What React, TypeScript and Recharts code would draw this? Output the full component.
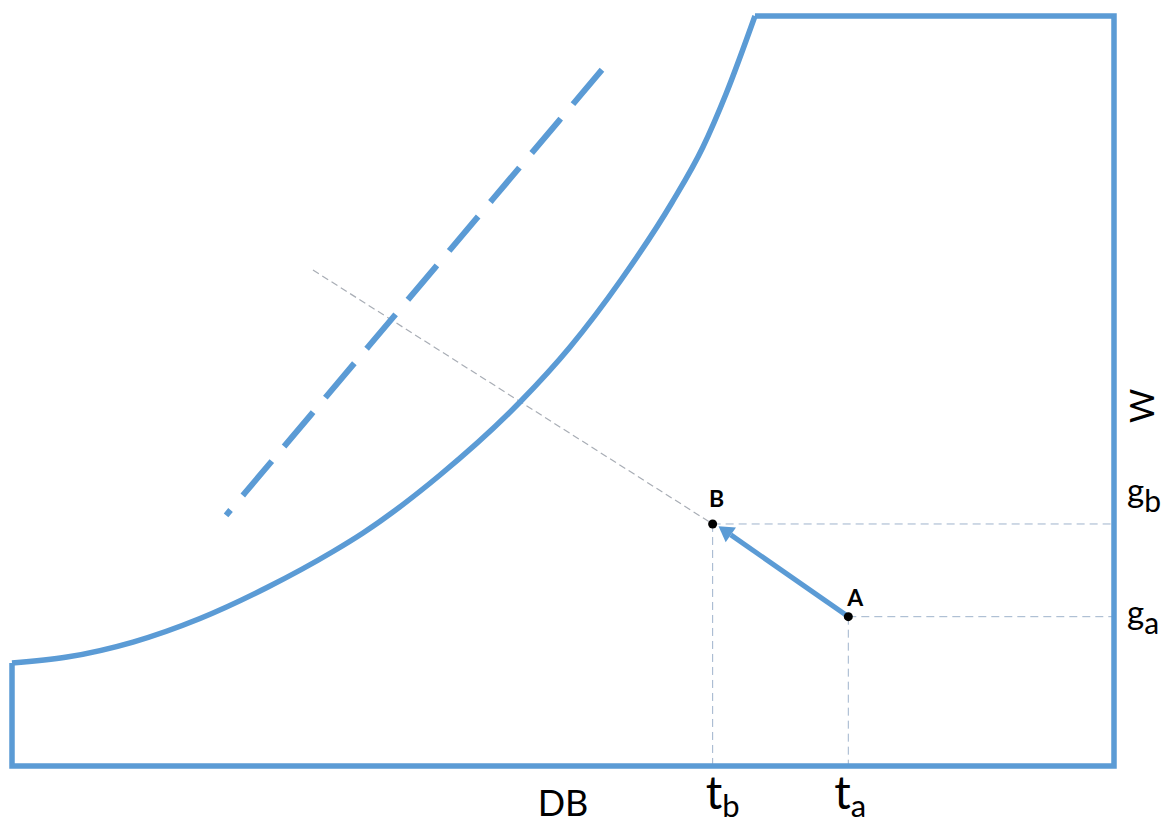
import { ComposedChart, Line, Scatter, XAxis, YAxis, Label } from "recharts";

// Schematic psychrometric chart: DB (dry bulb) on x, W (humidity ratio) on y, both 0..100 units
const satDb = [0, 4.99, 10.98, 17.06, 23.14, 29.13, 31.85, 38.84, 46.1, 50.64, 55.26, 59.89, 62.7, 64.79, 67.42];
const satW = [13.73, 14.53, 16.53, 19.67, 23.8, 28.6, 31.07, 38.8, 48.53, 55.87, 64.8, 75.13, 82.53, 89.6, 100];

const frameDb = [67.42, 100, 100, 0, 0];
const frameW = [100, 100, 0, 0, 13.73];

const wetBulbDb = [53.36, 19.6];
const wetBulbW = [92.53, 33.73];

const enthalpyDb = [27.31, 63.58];
const enthalpyW = [66.13, 32.27];

const pointNames = ["A", "B"];
const pointDb = [75.89, 63.58];
const pointW = [19.91, 32.27];

// arrow from A towards B, ending at the base of the head
const arrowDb = [75.89, 65.23];
const arrowW = [19.91, 30.81];

const dbTicks = [63.58, 75.89];
const dbTickLabels = [["t", "b"], ["t", "a"]];
const wTicks = [32.27, 19.91];
const wTickLabels = [["g", "b"], ["g", "a"]];

const BLUE = "#5b9bd5";
const GUIDE = "#9fb3cc";
const FONT = "Lato, 'Open Sans', sans-serif";

const toPts = (xs: number[], ys: number[]) => xs.map((x, i) => ({ x, y: ys[i] }));

const satCurve = toPts(satDb, satW);
const frame = toPts(frameDb, frameW);
const wetBulb = toPts(wetBulbDb, wetBulbW);
const enthalpy = toPts(enthalpyDb, enthalpyW);
const arrow = toPts(arrowDb, arrowW);
const points = pointNames.map((name, i) => ({ name, x: pointDb[i], y: pointW[i] }));

const guides = points.flatMap((p) => [
  [{ x: p.x, y: p.y }, { x: 100, y: p.y }],
  [{ x: p.x, y: p.y }, { x: p.x, y: 0 }],
]);

const pointLabelOffset: Record<string, [number, number]> = { A: [7, -11], B: [4, -17] };
const dbTickOffset = [-7, -14];
const wTickOffset = [-22, 7];

let shaftStart = { x: 0, y: 0 };

function ArrowHead(props: any) {
  const { cx, cy, index, points: pts } = props;
  if (index === 0) {
    shaftStart = { x: cx, y: cy };
    return <g key="ah0" />;
  }
  const from = pts && pts[0] ? pts[0] : shaftStart;
  const dx = cx - from.x;
  const dy = cy - from.y;
  const len = Math.hypot(dx, dy) || 1;
  const ux = dx / len;
  const uy = dy / len;
  const tipX = cx + ux * 15;
  const tipY = cy + uy * 15;
  const px = -uy * 9;
  const py = ux * 9;
  return (
    <polygon
      key="ah1"
      points={`${tipX},${tipY} ${cx + px},${cy + py} ${cx - px},${cy - py}`}
      fill={BLUE}
    />
  );
}

function PointMark(props: any) {
  const { cx, cy, payload } = props;
  const [ox, oy] = pointLabelOffset[payload.name] || [0, -12];
  return (
    <g>
      <circle cx={cx} cy={cy} r={4.5} fill="#000" />
      <text
        x={cx + ox}
        y={cy + oy}
        textAnchor="middle"
        fontFamily={FONT}
        fontWeight={700}
        fontSize={23}
        fill="#000"
      >
        {payload.name}
      </text>
    </g>
  );
}

function DbTick(props: any) {
  const { x, y, index } = props;
  const [main, sub] = dbTickLabels[index] || ["", ""];
  return (
    <text x={x + (dbTickOffset[index] || 0)} y={y + 43} fontFamily={FONT} fontSize={46} fill="#000">
      {main}
      <tspan fontSize={31} dy={8}>
        {sub}
      </tspan>
    </text>
  );
}

function WTick(props: any) {
  const { x, y, index } = props;
  const [main, sub] = wTickLabels[index] || ["", ""];
  return (
    <text x={x + 13} y={y + (wTickOffset[index] || 0)} fontFamily={FONT} fontSize={33} fill="#000">
      {main}
      <tspan fontSize={30} dy={10}>
        {sub}
      </tspan>
    </text>
  );
}

export default function App() {
  return (
    <div style={{ position: "absolute", left: 0, top: 0, width: 1166, height: 823, background: "#fff" }}>
      <ComposedChart width={1166} height={823} margin={{ top: 16, right: 0, bottom: 0, left: 12 }}>
        <XAxis
          type="number"
          dataKey="x"
          domain={[0, 100]}
          ticks={dbTicks}
          height={57}
          axisLine={false}
          tickLine={false}
          tickSize={0}
          tickMargin={0}
          tick={DbTick}
          interval={0}
        >
          <Label
            content={(p: any) => {
              const vb = p.viewBox || { x: 12, y: 766, width: 1102 };
              return (
                <text x={vb.x + vb.width / 2} y={vb.y + 50} textAnchor="middle" fontFamily={FONT} fontSize={36} fill="#000">
                  DB
                </text>
              );
            }}
          />
        </XAxis>
        <YAxis
          type="number"
          dataKey="y"
          domain={[0, 100]}
          orientation="right"
          ticks={wTicks}
          width={52}
          axisLine={false}
          tickLine={false}
          tickSize={0}
          tickMargin={0}
          tick={WTick}
          interval={0}
        >
          <Label
            content={(p: any) => {
              const vb = p.viewBox || { x: 1114, y: 16, width: 52, height: 750 };
              const cx = vb.x + 27;
              const cy = vb.y + vb.height / 2 + 15;
              return (
                <text
                  x={cx}
                  y={cy}
                  textAnchor="middle"
                  dominantBaseline="central"
                  transform={`rotate(-90 ${cx} ${cy})`}
                  fontFamily={FONT}
                  fontSize={33}
                  fill="#000"
                >
                  W
                </text>
              );
            }}
          />
        </YAxis>

        {guides.map((g, i) => (
          <Line
            key={`guide-${i}`}
            data={g}
            dataKey="y"
            type="linear"
            stroke={GUIDE}
            strokeWidth={1}
            strokeDasharray="8 5"
            dot={false}
            activeDot={false}
            isAnimationActive={false}
          />
        ))}
        <Line
          data={enthalpy}
          dataKey="y"
          type="linear"
          stroke="#a8adb5"
          strokeWidth={1.2}
          strokeDasharray="7 4"
          dot={false}
          activeDot={false}
          isAnimationActive={false}
        />
        <Line
          data={satCurve}
          dataKey="y"
          type="monotone"
          stroke={BLUE}
          strokeWidth={5.5}
          dot={false}
          activeDot={false}
          isAnimationActive={false}
        />
        <Line
          data={frame}
          dataKey="y"
          type="linear"
          stroke={BLUE}
          strokeWidth={5.5}
          strokeLinejoin="miter"
          dot={false}
          activeDot={false}
          isAnimationActive={false}
        />
        <Line
          data={wetBulb}
          dataKey="y"
          type="linear"
          stroke={BLUE}
          strokeWidth={6}
          strokeDasharray="39 25"
          strokeLinecap="square"
          dot={false}
          activeDot={false}
          isAnimationActive={false}
        />
        <Line
          data={arrow}
          dataKey="y"
          type="linear"
          stroke={BLUE}
          strokeWidth={5}
          dot={ArrowHead}
          activeDot={false}
          isAnimationActive={false}
        />
        <Scatter data={points} dataKey="y" shape={PointMark} isAnimationActive={false} />
      </ComposedChart>
    </div>
  );
}
